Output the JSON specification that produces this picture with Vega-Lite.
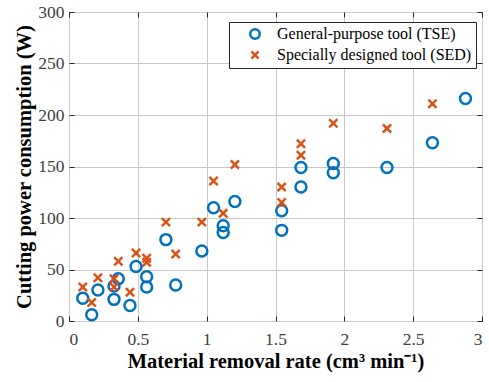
{
  "$schema": "https://vega.github.io/schema/vega-lite/v6.json",
  "width": 413,
  "height": 309,
  "autosize": "none",
  "padding": {"left": 69, "top": 12, "right": 7, "bottom": 61},
  "background": "white",
  "config": {
    "view": {"stroke": "#262626", "strokeWidth": 1},
    "font": "Liberation Serif"
  },
  "data": {
    "values": [
      {"tool": "General-purpose tool (TSE)", "mrr": 0.10, "power": 22},
      {"tool": "General-purpose tool (TSE)", "mrr": 0.165, "power": 6},
      {"tool": "General-purpose tool (TSE)", "mrr": 0.21, "power": 30},
      {"tool": "General-purpose tool (TSE)", "mrr": 0.327, "power": 21},
      {"tool": "General-purpose tool (TSE)", "mrr": 0.327, "power": 34},
      {"tool": "General-purpose tool (TSE)", "mrr": 0.358, "power": 41},
      {"tool": "General-purpose tool (TSE)", "mrr": 0.443, "power": 15},
      {"tool": "General-purpose tool (TSE)", "mrr": 0.487, "power": 53},
      {"tool": "General-purpose tool (TSE)", "mrr": 0.564, "power": 43},
      {"tool": "General-purpose tool (TSE)", "mrr": 0.564, "power": 33},
      {"tool": "General-purpose tool (TSE)", "mrr": 0.704, "power": 79},
      {"tool": "General-purpose tool (TSE)", "mrr": 0.775, "power": 35},
      {"tool": "General-purpose tool (TSE)", "mrr": 0.965, "power": 68},
      {"tool": "General-purpose tool (TSE)", "mrr": 1.05, "power": 110},
      {"tool": "General-purpose tool (TSE)", "mrr": 1.12, "power": 92.5},
      {"tool": "General-purpose tool (TSE)", "mrr": 1.12, "power": 86},
      {"tool": "General-purpose tool (TSE)", "mrr": 1.205, "power": 116},
      {"tool": "General-purpose tool (TSE)", "mrr": 1.545, "power": 107},
      {"tool": "General-purpose tool (TSE)", "mrr": 1.545, "power": 88},
      {"tool": "General-purpose tool (TSE)", "mrr": 1.685, "power": 149},
      {"tool": "General-purpose tool (TSE)", "mrr": 1.685, "power": 130},
      {"tool": "General-purpose tool (TSE)", "mrr": 1.92, "power": 153},
      {"tool": "General-purpose tool (TSE)", "mrr": 1.92, "power": 144},
      {"tool": "General-purpose tool (TSE)", "mrr": 2.31, "power": 149},
      {"tool": "General-purpose tool (TSE)", "mrr": 2.64, "power": 173},
      {"tool": "General-purpose tool (TSE)", "mrr": 2.88, "power": 216},
      {"tool": "Specially designed tool (SED)", "mrr": 0.10, "power": 33},
      {"tool": "Specially designed tool (SED)", "mrr": 0.165, "power": 18},
      {"tool": "Specially designed tool (SED)", "mrr": 0.21, "power": 42},
      {"tool": "Specially designed tool (SED)", "mrr": 0.327, "power": 41},
      {"tool": "Specially designed tool (SED)", "mrr": 0.327, "power": 33},
      {"tool": "Specially designed tool (SED)", "mrr": 0.358, "power": 58},
      {"tool": "Specially designed tool (SED)", "mrr": 0.443, "power": 28},
      {"tool": "Specially designed tool (SED)", "mrr": 0.487, "power": 66},
      {"tool": "Specially designed tool (SED)", "mrr": 0.564, "power": 61},
      {"tool": "Specially designed tool (SED)", "mrr": 0.564, "power": 57},
      {"tool": "Specially designed tool (SED)", "mrr": 0.704, "power": 96},
      {"tool": "Specially designed tool (SED)", "mrr": 0.775, "power": 65},
      {"tool": "Specially designed tool (SED)", "mrr": 0.965, "power": 96},
      {"tool": "Specially designed tool (SED)", "mrr": 1.05, "power": 136},
      {"tool": "Specially designed tool (SED)", "mrr": 1.12, "power": 104.5},
      {"tool": "Specially designed tool (SED)", "mrr": 1.205, "power": 152},
      {"tool": "Specially designed tool (SED)", "mrr": 1.545, "power": 130},
      {"tool": "Specially designed tool (SED)", "mrr": 1.545, "power": 115},
      {"tool": "Specially designed tool (SED)", "mrr": 1.685, "power": 172},
      {"tool": "Specially designed tool (SED)", "mrr": 1.685, "power": 161},
      {"tool": "Specially designed tool (SED)", "mrr": 1.92, "power": 192},
      {"tool": "Specially designed tool (SED)", "mrr": 2.31, "power": 187},
      {"tool": "Specially designed tool (SED)", "mrr": 2.64, "power": 211}
    ]
  },
  "resolve": {"axis": {"x": "independent", "y": "independent"}},
  "layer": [
    {
      "mark": {"type": "point", "filled": false, "strokeWidth": 2.5, "opacity": 1},
      "encoding": {
        "x": {
          "field": "mrr", "type": "quantitative",
          "scale": {"domain": [0, 3], "nice": false},
          "axis": {
            "values": [0, 0.5, 1, 1.5, 2, 2.5, 3],
            "format": "~g",
            "title": "Material removal rate (cm³ min⁻¹)",
            "titleFont": "Liberation Serif", "titleFontSize": 20.5, "titleFontWeight": "bold", "titleColor": "#000000",
            "titlePadding": 4,
            "labelFont": "Liberation Serif", "labelFontSize": 17.5, "labelColor": "#404040",
            "labelPadding": 14,
            "tickSize": -5, "tickColor": "#262626",
            "domain": false,
            "grid": true, "gridColor": "#c8c8c8", "gridWidth": 1
          }
        },
        "y": {
          "field": "power", "type": "quantitative",
          "scale": {"domain": [0, 300], "nice": false},
          "axis": {
            "values": [0, 50, 100, 150, 200, 250, 300],
            "title": "Cutting power consumption (W)",
            "titleFont": "Liberation Serif", "titleFontSize": 20.5, "titleFontWeight": "bold", "titleColor": "#000000",
            "titlePadding": 3,
            "labelFont": "Liberation Serif", "labelFontSize": 17.5, "labelColor": "#404040",
            "labelPadding": 10,
            "tickSize": -5, "tickColor": "#262626",
            "domain": false,
            "grid": true, "gridColor": "#c8c8c8", "gridWidth": 1
          }
        },
        "color": {
          "field": "tool", "type": "nominal",
          "scale": {"domain": ["General-purpose tool (TSE)", "Specially designed tool (SED)"], "range": ["#0072BD", "#D95319"]},
          "legend": {
            "title": null,
            "orient": "none",
            "legendX": 160,
            "legendY": 10,
            "fillColor": "white",
            "strokeColor": "#262626",
            "padding": 4,
            "symbolOffset": 14,
            "labelFont": "Liberation Serif",
            "labelFontSize": 16,
            "labelColor": "#000000",
            "labelLimit": 0,
            "symbolStrokeWidth": 2.5,
            "symbolSize": 90,
            "rowPadding": 2,
            "labelOffset": 14
          }
        },
        "shape": {
          "field": "tool", "type": "nominal",
          "scale": {"domain": ["General-purpose tool (TSE)", "Specially designed tool (SED)"], "range": ["circle", "M-0.75,-0.75L0.75,0.75M-0.75,0.75L0.75,-0.75"]},
          "legend": null
        },
        "size": {"value": 120}
      }
    },
    {
      "mark": {"type": "point", "opacity": 0},
      "encoding": {
        "x": {
          "field": "mrr", "type": "quantitative",
          "axis": {
            "orient": "top", "values": [0, 0.5, 1, 1.5, 2, 2.5, 3],
            "labels": false, "title": null, "grid": false, "domain": false,
            "tickSize": -5, "tickColor": "#262626"
          }
        },
        "y": {
          "field": "power", "type": "quantitative",
          "axis": {
            "orient": "right", "values": [0, 50, 100, 150, 200, 250, 300],
            "labels": false, "title": null, "grid": false, "domain": false,
            "tickSize": -5, "tickColor": "#262626"
          }
        }
      }
    }
  ]
}
